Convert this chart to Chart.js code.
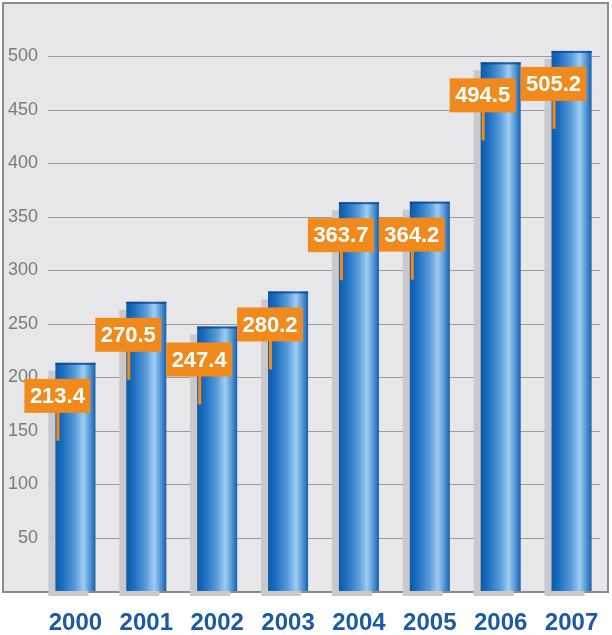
<!DOCTYPE html>
<html>
<head>
<meta charset="utf-8">
<script src="https://cdn.jsdelivr.net/npm/chart.js@4.4.1/dist/chart.umd.min.js"></script>
<style>
  html, body { margin: 0; padding: 0; background: #ffffff; }
  #wrap { width: 612px; height: 635px; }
</style>
</head>
<body>
<div id="wrap"><canvas id="c" width="612" height="635"></canvas></div>
<script>
const categories = ['2000', '2001', '2002', '2003', '2004', '2005', '2006', '2007'];
const values = [213.4, 270.5, 247.4, 280.2, 363.7, 364.2, 494.5, 505.2];
const valueLabels = ['213.4', '270.5', '247.4', '280.2', '363.7', '364.2', '494.5', '505.2'];
const yTickValues = [50, 100, 150, 200, 250, 300, 350, 400, 450, 500];

const ORANGE = '#f08a1c';
const BAR_PCT = 0.565;

function barGradient(ctx) {
  const chart = ctx.chart;
  const area = chart.chartArea;
  const xs = chart.scales.x;
  if (!area || !xs || ctx.dataIndex === undefined) return '#2a78c4';
  const cx = xs.getPixelForValue(ctx.dataIndex);
  const w = (area.width / categories.length) * BAR_PCT;
  const left = cx - w / 2;
  const g = chart.ctx.createLinearGradient(left, 0, left + w, 0);
  g.addColorStop(0, '#0e5aa8');
  g.addColorStop(0.18, '#1b6dbf');
  g.addColorStop(0.5, '#5b9ddb');
  g.addColorStop(0.7, '#9fcdf0');
  g.addColorStop(0.88, '#4b90d3');
  g.addColorStop(1, '#1660ad');
  return g;
}

const decorPlugin = {
  id: 'decor',
  beforeDraw(chart) {
    const ctx = chart.ctx;
    ctx.save();
    ctx.fillStyle = '#ffffff';
    ctx.fillRect(0, 0, chart.width, chart.height);
    ctx.fillStyle = '#e7e7e9';
    ctx.fillRect(3, 3, 605, 589);
    ctx.strokeStyle = '#8c8c8c';
    ctx.lineWidth = 2;
    ctx.strokeRect(3, 3, 605, 589);
    ctx.restore();
  },
  beforeDatasetsDraw(chart) {
    const ctx = chart.ctx;
    const ys = chart.scales.y;
    ctx.save();
    ctx.strokeStyle = '#9a9a9a';
    ctx.lineWidth = 1.2;
    yTickValues.forEach(v => {
      const y = Math.round(ys.getPixelForValue(v)) + 0.5;
      ctx.beginPath();
      ctx.moveTo(48, y);
      ctx.lineTo(600, y);
      ctx.stroke();
    });
    const meta = chart.getDatasetMeta(0);
    const base = ys.getPixelForValue(0);
    ctx.fillStyle = '#c9c9cb';
    meta.data.forEach(el => {
      const w = el.width;
      const left = el.x - w / 2;
      ctx.fillRect(left - 7, el.y + 8, w, base + 5 - (el.y + 8));
    });
    ctx.restore();
  },
  afterDatasetsDraw(chart) {
    const ctx = chart.ctx;
    const meta = chart.getDatasetMeta(0);
    ctx.save();
    meta.data.forEach((el, i) => {
      const w = el.width;
      const left = el.x - w / 2;
      ctx.fillStyle = 'rgba(10,70,140,0.8)';
      ctx.fillRect(left, el.y, w, 2);
      const bx = left - 31, by = el.y + 16, bw = 66, bh = 34;
      ctx.fillStyle = ORANGE;
      ctx.fillRect(left + 1, by + bh - 1, 3, 29);
      ctx.fillRect(bx, by, bw, bh);
      ctx.fillStyle = '#ffffff';
      ctx.font = 'bold 22px "Liberation Sans", Arial, sans-serif';
      ctx.textAlign = 'center';
      ctx.textBaseline = 'middle';
      ctx.fillText(valueLabels[i], bx + bw / 2, by + bh / 2 + 1);
    });
    ctx.restore();
  }
};

new Chart(document.getElementById('c'), {
  type: 'bar',
  data: {
    labels: categories,
    datasets: [{
      data: values,
      backgroundColor: barGradient,
      borderWidth: 0,
      barPercentage: BAR_PCT,
      categoryPercentage: 1.0
    }]
  },
  options: {
    responsive: false,
    animation: false,
    layout: { padding: { left: 0, right: 5, top: 3, bottom: 0 } },
    plugins: { legend: { display: false }, tooltip: { enabled: false } },
    scales: {
      x: {
        grid: { display: false, drawTicks: false },
        border: { display: false },
        ticks: {
          color: '#1c5aa6',
          font: { family: '"Liberation Sans", Arial, sans-serif', size: 24, weight: 'bold' },
          padding: 18
        },
        afterFit(s) { s.height = 44; s.paddingLeft = 0; s.paddingRight = 0; }
      },
      y: {
        min: 0,
        max: 550,
        grid: { display: false, drawTicks: false },
        border: { display: false },
        ticks: {
          stepSize: 50,
          color: '#7b7b7b',
          font: { family: '"Liberation Sans", Arial, sans-serif', size: 18 },
          padding: 2,
          callback: v => (yTickValues.includes(v) ? String(v) : '')
        },
        afterFit(s) { s.width = 40; s.paddingTop = 0; s.paddingBottom = 0; }
      }
    }
  },
  plugins: [decorPlugin]
});
</script>
</body>
</html>
